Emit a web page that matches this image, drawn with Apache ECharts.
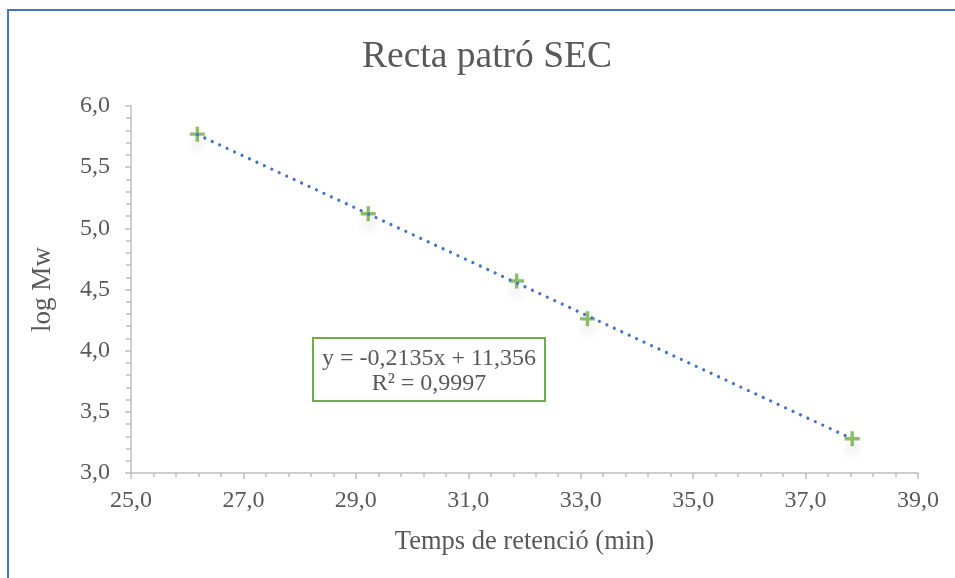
<!DOCTYPE html>
<html>
<head>
<meta charset="utf-8">
<script src="https://cdn.jsdelivr.net/npm/echarts@6/dist/echarts.min.js"></script>
<style>
  html, body { margin: 0; padding: 0; background: #fff; }
  #chart { width: 955px; height: 578px; }
</style>
</head>
<body>
<div id="chart"></div>
<script>
// ---- data ----
const titleText = 'Recta patró SEC';
const xAxisName = 'Temps de retenció (min)';
const yAxisName = 'log Mw';
const retentionTimes = [26.18, 29.22, 31.86, 33.12, 37.83];
const logMw = [5.77, 5.12, 4.57, 4.26, 3.28];
const trendSlope = -0.2135;
const trendIntercept = 11.356;
const trendR2 = 0.9997;
const xMin = 25, xMax = 39, xStep = 2;
const yMin = 3, yMax = 6, yStep = 0.5;

const fmt = (v, d) => v.toFixed(d).replace('.', ',');
const points = retentionTimes.map((x, i) => [x, logMw[i]]);
const tMin = Math.min(...retentionTimes), tMax = Math.max(...retentionTimes);
const trendLine = [tMin, tMax].map(x => [x, trendSlope * x + trendIntercept]);
const eqLine1 = 'y = ' + fmt(trendSlope, 4) + 'x + ' + fmt(trendIntercept, 3);
const eqLine2 = 'R² = ' + fmt(trendR2, 4);

const FONT = "'Liberation Serif', 'Times New Roman', serif";
const TXT = '#595959';
const AX = '#bfbfbf';

const chart = echarts.init(document.getElementById('chart'), null, { renderer: 'canvas' });
chart.setOption({
  backgroundColor: '#ffffff',
  animation: false,
  title: {
    text: titleText,
    left: 357,
    top: 33,
    textStyle: { fontFamily: FONT, fontSize: 37.5, fontWeight: 'normal', color: TXT }
  },
  grid: { left: 131, right: 37, top: 106, bottom: 105, containLabel: false },
  xAxis: {
    type: 'value', min: xMin, max: xMax, interval: xStep,
    name: xAxisName, nameLocation: 'middle', nameGap: 56,
    nameTextStyle: { fontFamily: FONT, fontSize: 26.5, color: TXT },
    axisLine: { show: true, lineStyle: { color: AX, width: 1.5 } },
    axisTick: { show: true, inside: false, length: 6, lineStyle: { color: AX, width: 1.5 } },
    minorTick: { show: true, splitNumber: 5, length: 4, lineStyle: { color: AX, width: 1.5 } },
    splitLine: { show: false },
    axisLabel: { fontFamily: FONT, fontSize: 24, color: TXT, margin: 16, formatter: v => fmt(v, 1) }
  },
  yAxis: {
    type: 'value', min: yMin, max: yMax, interval: yStep,
    name: yAxisName, nameLocation: 'middle', nameGap: 75,
    nameTextStyle: { fontFamily: FONT, fontSize: 27, color: TXT },
    axisLine: { show: true, lineStyle: { color: AX, width: 1.5 } },
    axisTick: { show: true, inside: false, length: 6, lineStyle: { color: AX, width: 1.5 } },
    minorTick: { show: true, splitNumber: 5, length: 5, lineStyle: { color: AX, width: 1.5 } },
    splitLine: { show: false },
    axisLabel: { fontFamily: FONT, fontSize: 24, color: TXT, margin: 21, formatter: v => fmt(v, 1) }
  },
  series: [
    {
      type: 'scatter',
      data: points,
      symbol: 'path://M3.85,0 L6.15,0 L6.15,3.85 L10,3.85 L10,6.15 L6.15,6.15 L6.15,10 L3.85,10 L3.85,6.15 L0,6.15 L0,3.85 L3.85,3.85 Z',
      symbolSize: 15,
      itemStyle: {
        color: '#70ad47',
        shadowColor: 'rgba(0,0,0,0.12)',
        shadowBlur: 10,
        shadowOffsetY: 10
      },
      z: 2
    },
    {
      type: 'line',
      data: trendLine,
      showSymbol: false,
      symbol: 'none',
      lineStyle: { color: '#4472c4', width: 3.2, type: [0.01, 8.2], cap: 'round' },
      z: 3
    }
  ],
  graphic: [
    { type: 'line', shape: { x1: 7, y1: 10, x2: 955, y2: 10 }, style: { stroke: '#4472c4', lineWidth: 2 } },
    { type: 'line', shape: { x1: 8, y1: 9, x2: 8, y2: 578 }, style: { stroke: '#4472c4', lineWidth: 2 } },
    {
      type: 'group', left: 312, top: 337,
      children: [
        { type: 'rect', shape: { x: 0, y: 0, width: 232, height: 63 }, style: { fill: '#fff', stroke: '#70ad47', lineWidth: 2 } },
        { type: 'text', x: 116, y: 21, style: { text: eqLine1, fontFamily: FONT, fontSize: 24, fill: TXT, align: 'center', verticalAlign: 'middle' } },
        { type: 'text', x: 116, y: 46, style: { text: eqLine2, fontFamily: FONT, fontSize: 24, fill: TXT, align: 'center', verticalAlign: 'middle' } }
      ]
    }
  ]
});
</script>
</body>
</html>
